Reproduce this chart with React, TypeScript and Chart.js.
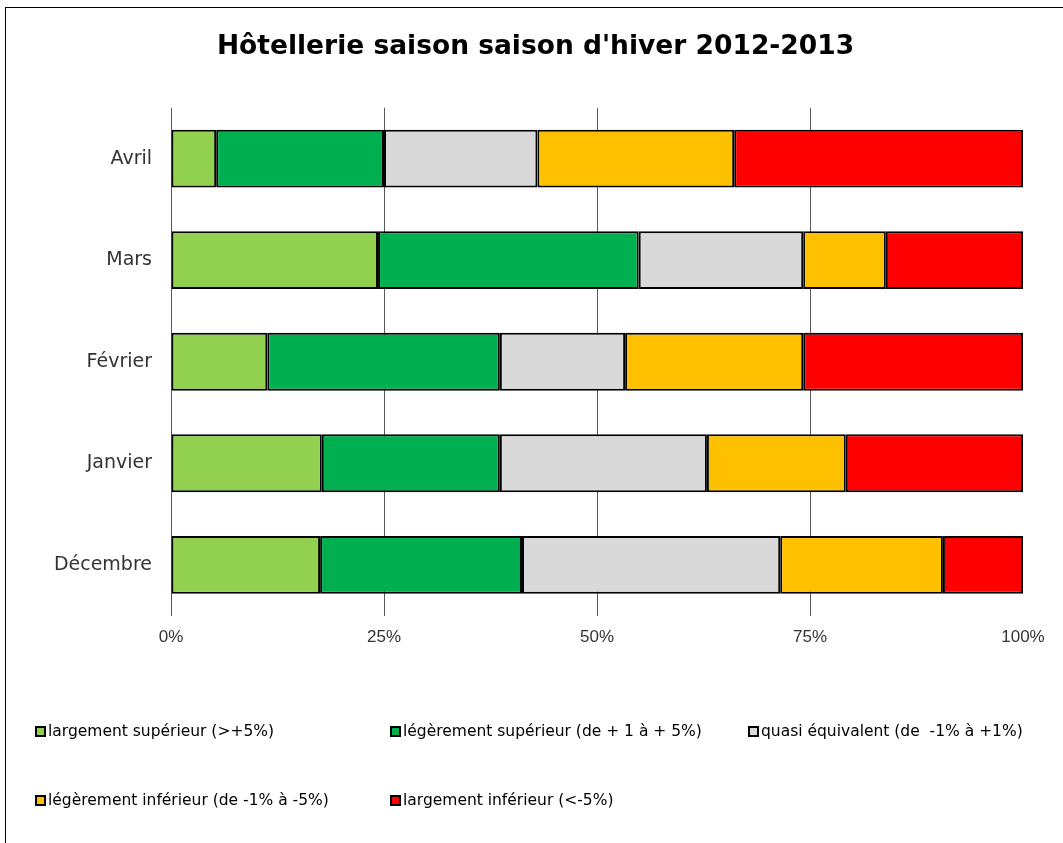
import React, { useEffect, useRef } from "react";
import { Chart, registerables } from "chart.js";

Chart.register(...registerables);

const categories = ["Avril", "Mars", "Février", "Janvier", "Décembre"];
const seriesNames = [
  "largement supérieur (>+5%)",
  "légèrement supérieur (de + 1 à + 5%)",
  "quasi équivalent (de  -1% à +1%)",
  "légèrement inférieur (de -1% à -5%)",
  "largement inférieur (<-5%)",
];
const colors = ["#92D050", "#00B050", "#D9D9D9", "#FFC000", "#FF0000"];
const largementSup = [5.3, 24.3, 11.3, 17.7, 17.5];
const legerementSup = [19.7, 30.6, 27.3, 20.9, 23.7];
const quasiEquiv = [18.0, 19.3, 14.7, 24.3, 30.3];
const legerementInf = [23.1, 9.7, 20.9, 16.3, 19.1];
const largementInf = [33.9, 16.1, 25.8, 20.8, 9.4];
const tickValues = [0, 25, 50, 75, 100];

const WIDE = "'DejaVu Sans', Verdana, sans-serif";
const ARIAL = "'Liberation Sans', Arial, sans-serif";

export default function App() {
  const ref = useRef<HTMLCanvasElement>(null);
  useEffect(() => {
    if (!ref.current) return;
    const seriesData = [largementSup, legerementSup, quasiEquiv, legerementInf, largementInf];
    const chart = new Chart(ref.current, {
      type: "bar",
      data: {
        labels: categories,
        datasets: seriesData.map((d, i) => ({
          label: seriesNames[i],
          data: d,
          backgroundColor: colors[i],
          borderColor: "#000000",
          borderWidth: 2,
          borderSkipped: false,
          categoryPercentage: 1,
          barPercentage: 0.57,
        })),
      },
      options: {
        indexAxis: "y",
        animation: false,
        responsive: false,
        maintainAspectRatio: false,
        layout: { padding: { left: 48, right: 40, top: 0, bottom: 183 } },
        plugins: {
          legend: { display: false },
          tooltip: { enabled: false },
          title: {
            display: true,
            text: "Hôtellerie saison saison d'hiver 2012-2013",
            color: "#000000",
            font: { family: WIDE, size: 26.5, weight: "bold" },
            padding: { top: 31, bottom: 45 },
          },
        },
        scales: {
          x: {
            stacked: true,
            min: 0,
            max: 100,
            afterBuildTicks: (axis: any) => {
              axis.ticks = tickValues.map((v) => ({ value: v }));
            },
            ticks: {
              callback: (v: any) => v + "%",
              color: "#333333",
              font: { family: ARIAL, size: 17 },
              padding: 12,
              maxRotation: 0,
            },
            grid: {
              drawTicks: false,
              color: (ctx: any) => (ctx.tick && ctx.tick.value === 100 ? "rgba(0,0,0,0)" : "#595959"),
              lineWidth: 1,
            },
            border: { display: false },
          },
          y: {
            stacked: true,
            afterFit: (axis: any) => {
              axis.width = 123;
            },
            ticks: {
              color: "#333333",
              font: { family: WIDE, size: 19 },
              padding: 19,
            },
            grid: { display: false, drawTicks: false },
            border: { display: false },
          },
        },
      },
    });
    return () => chart.destroy();
  }, []);

  const legendRows = [
    [
      { i: 0, x: 35 },
      { i: 1, x: 390 },
      { i: 2, x: 748 },
    ],
    [
      { i: 3, x: 35 },
      { i: 4, x: 390 },
    ],
  ];
  const rowY = [731, 800];

  return (
    <div style={{ position: "absolute", left: 0, top: 0, width: 1063, height: 843, overflow: "hidden", background: "#fff" }}>
      <div style={{ position: "absolute", left: 5, top: 7, width: 1100, height: 900, border: "1px solid #000" }} />
      <canvas ref={ref} width={1063} height={843} style={{ position: "absolute", left: 0, top: 0 }} />
      {legendRows.map((row, r) =>
        row.map((it) => (
          <div
            key={it.i}
            style={{
              position: "absolute",
              left: it.x,
              top: rowY[r] - 10,
              height: 20,
              display: "flex",
              alignItems: "center",
              fontFamily: WIDE,
              fontSize: 15.5,
              color: "#000",
              whiteSpace: "pre",
            }}
          >
            <span
              style={{
                display: "inline-block",
                width: 7,
                height: 7,
                background: colors[it.i],
                border: "2px solid #000",
                marginRight: 2,
              }}
            />
            <span>{seriesNames[it.i]}</span>
          </div>
        ))
      )}
    </div>
  );
}
